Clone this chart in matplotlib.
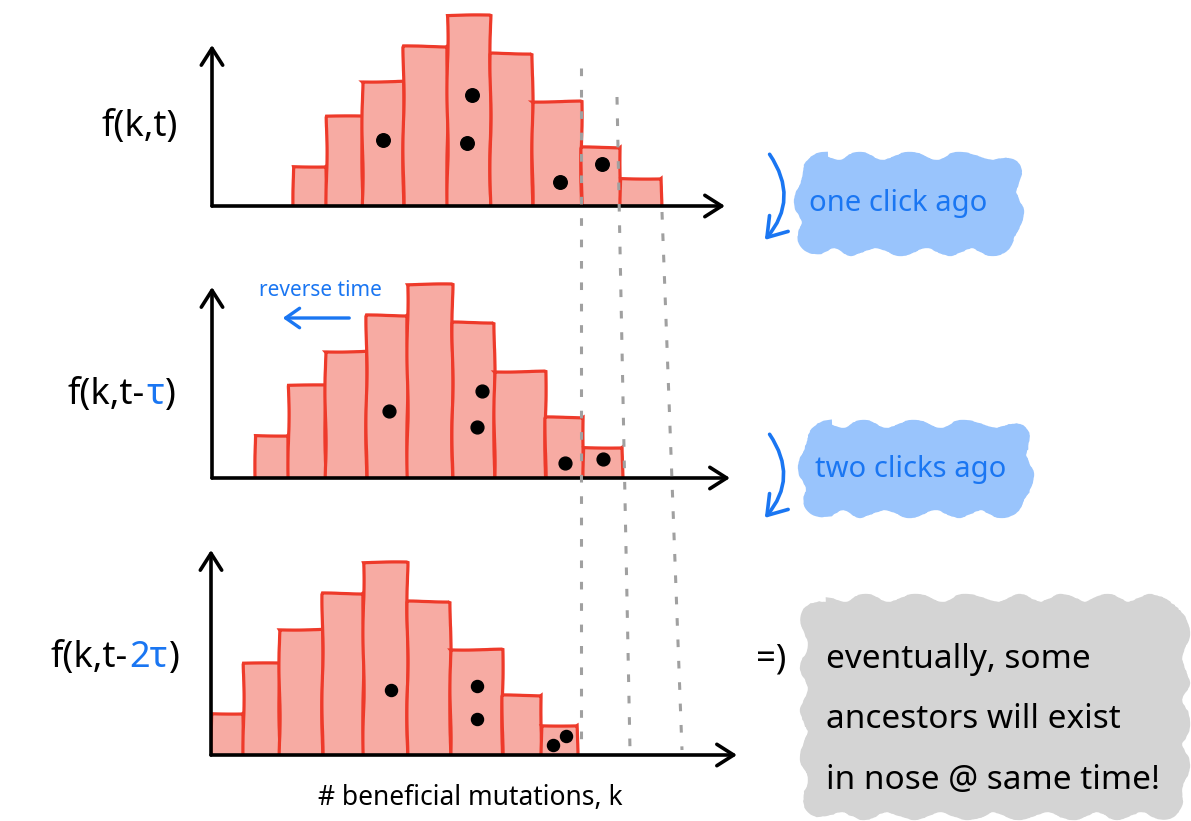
import numpy as np
import matplotlib.pyplot as plt
from matplotlib.patches import FancyBboxPatch, FancyArrowPatch
from matplotlib.offsetbox import TextArea, HPacker, AnnotationBbox

# --- data: f(k, t) at three times, hand-drawn bins (k units, arbitrary heights) ---
edges_now = [1.97, 2.78, 3.65, 4.66, 5.72, 6.78, 7.80, 9.00, 9.95, 10.94]
f_now = [40, 90, 125, 160, 191, 153, 105, 59, 28]

edges_one = [1.05, 1.85, 2.76, 3.76, 4.75, 5.85, 6.88, 8.12, 9.06, 9.99]
f_one = [43, 93, 127, 163, 194, 156, 107, 61, 31]

edges_two = [0.0, 0.77, 1.66, 2.70, 3.71, 4.79, 5.83, 7.09, 8.04, 8.92]
f_two = [42, 92, 126, 162, 193, 154, 106, 60, 30]

# individuals (dots) drawn inside the bars: (k, f)
dots_now_k = [4.16, 6.33, 6.21, 8.49, 9.52]
dots_now_f = [66, 111, 63, 24, 42]
dots_one_k = [4.32, 6.58, 6.47, 8.61, 9.54]
dots_one_f = [67, 87, 51, 15, 19]
dots_two_k = [4.38, 6.48, 6.48, 8.35, 8.65]
dots_two_f = [65, 69, 36, 10, 19]

row_labels = [("f(k,t)", "", ""), ("f(k,t-", "τ", ")"), ("f(k,t-", "2τ", ")")]
side_notes = ["one click ago", "two clicks ago"]
conclusion = ["eventually, some", "ancestors will exist", "in nose @ same time!"]
xlabel = "# beneficial mutations, k"

BAR_FC = "#f7aba3"
BAR_EC = "#ee3a2a"
BLUE = "#1a76f2"
BLOB_BLUE = "#99c4fc"
BLOB_GREY = "#d4d4d4"

plt.rcParams["font.family"] = ["Noto Sans", "DejaVu Sans"]

W, H = 1191, 821
fig = plt.figure(figsize=(W / 100, H / 100), dpi=100)

PX_PER_K = 41.0


def panel(left_px, base_px, edges, fs, dk, df, yarrow, xarrow_px, dot_s):
    ax = fig.add_axes([left_px / W, (H - base_px) / H, 540 / W, 200 / H])
    ax.set_xlim(0, 540 / PX_PER_K)
    ax.set_ylim(0, 200)
    ax.axis("off")
    edges = np.asarray(edges)
    bars = ax.bar(edges[:-1], fs, width=np.diff(edges), align="edge",
                  color=BAR_FC, edgecolor=BAR_EC, linewidth=2.3, zorder=2)
    for b in bars:
        b.set_sketch_params(0.6, 120, 2)
    ax.scatter(dk, df, s=dot_s, color="black", zorder=3)
    xend = (xarrow_px - left_px) / PX_PER_K
    arr = dict(arrowstyle="->,head_length=0.55,head_width=0.35",
               color="black", lw=2.6, mutation_scale=22, shrinkA=0, shrinkB=0)
    ax.annotate("", xy=(0, yarrow), xytext=(0, 0), arrowprops=arr,
                annotation_clip=False, zorder=4)
    ax.annotate("", xy=(xend, 0), xytext=(0, 0), arrowprops=arr,
                annotation_clip=False, zorder=4)
    return ax


panel(212, 206, edges_now, f_now, dots_now_k, dots_now_f, 161, 725, 95)
panel(212, 478, edges_one, f_one, dots_one_k, dots_one_f, 191, 730, 85)
panel(211, 755, edges_two, f_two, dots_two_k, dots_two_f, 205, 737, 75)

# --- overlay in pixel coordinates for the annotations ---
ov = fig.add_axes([0, 0, 1, 1], facecolor="none")
ov.set_xlim(0, W)
ov.set_ylim(H, 0)
ov.axis("off")

# dashed guides
guides = [((581, 68), (581, 750)), ((617, 97), (630, 750)), ((662, 212), (682, 750))]
for (x0, y0), (x1, y1) in guides:
    ov.plot([x0, x1], [y0, y1], color="#a0a0a0", lw=2.2, dashes=(2.5, 4.5),
            solid_capstyle="round", zorder=5)

# row labels with blue tau
label_pos = [(178, 127), (176, 395), (180, 658)]
for (pre, tau, post), (xr, yc) in zip(row_labels, label_pos):
    parts = [TextArea(pre, textprops=dict(fontsize=26, color="black"))]
    if tau:
        parts.append(TextArea(tau, textprops=dict(fontsize=26, color=BLUE,
                                                  fontweight="bold")))
        parts.append(TextArea(post, textprops=dict(fontsize=26, color="black")))
    box = HPacker(children=parts, align="baseline", pad=0, sep=1)
    ab = AnnotationBbox(box, (xr, yc), xycoords="data", box_alignment=(1, 0.5),
                        frameon=False, pad=0)
    ov.add_artist(ab)

# blobs with notes
blobs = [((806, 164, 206, 80), BLOB_BLUE), ((810, 432, 212, 74), BLOB_BLUE),
         ((812, 606, 366, 202), BLOB_GREY)]
for (x, y, w, h), c in blobs:
    p = FancyBboxPatch((x, y), w, h, boxstyle="round,pad=4,rounding_size=22",
                       fc=c, ec=c, lw=6, zorder=1)
    p.set_sketch_params(4, 60, 3)
    ov.add_patch(p)

ov.text(898, 203, side_notes[0], color=BLUE, fontsize=21, ha="center", va="center")
ov.text(911, 470, side_notes[1], color=BLUE, fontsize=21, ha="center", va="center")
for i, line in enumerate(conclusion):
    ov.text(826, 660 + i * 60, line, fontsize=24, ha="left", va="center")
ov.text(771, 660, "=)", fontsize=25, ha="center", va="center")

# curved arrows pointing back in time
for y0, y1 in [(152, 242), (432, 520)]:
    a = FancyArrowPatch((768, y0), (763, y1), connectionstyle="arc3,rad=-0.4",
                        arrowstyle="->,head_length=0.6,head_width=0.4",
                        mutation_scale=22, color=BLUE, lw=2.6)
    ov.add_patch(a)

# reverse time note
ov.text(320, 291, "reverse time", color=BLUE, fontsize=15, ha="center", va="center")
ov.annotate("", xy=(280, 318), xytext=(352, 318),
            arrowprops=dict(arrowstyle="->,head_length=0.5,head_width=0.35",
                            color=BLUE, lw=2.4, mutation_scale=20))

ov.text(470, 798, xlabel, fontsize=19, ha="center", va="center")

fig.savefig("out.png", dpi=100)
